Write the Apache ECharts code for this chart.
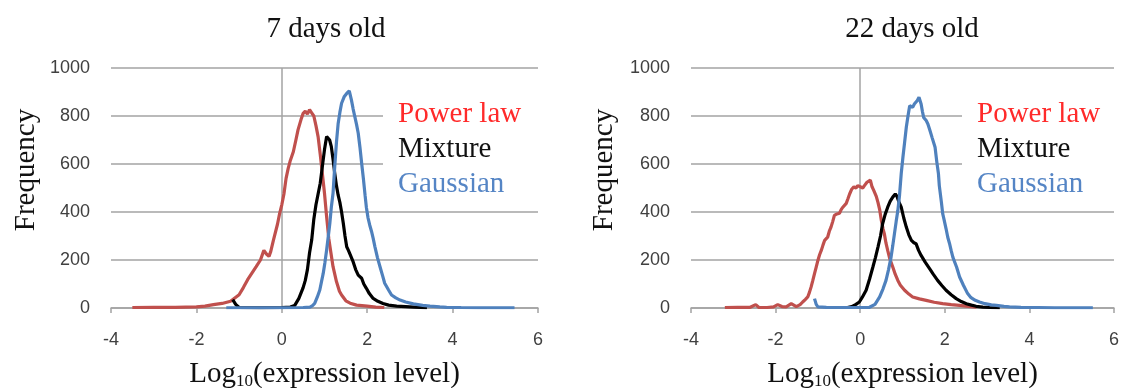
<!DOCTYPE html>
<html>
<head>
<meta charset="utf-8">
<script src="https://cdn.jsdelivr.net/npm/echarts@6/dist/echarts.min.js"></script>
<style>html,body{margin:0;padding:0;background:#fff}#chart{width:1124px;height:388px}</style>
</head>
<body>
<div id="chart"></div>
<script>
// ---- Data (x = log10 expression level, y = frequency) ----
const panelTitles = ['7 days old', '22 days old'];
const seriesNames = ['Power law', 'Mixture', 'Gaussian'];

const day7PowerLaw = [[-3.5,2],[-3.0,3],[-2.5,3],[-2.0,5],[-1.8,8],[-1.6,14],[-1.4,19],[-1.2,28],[-1.0,55],[-0.9,85],[-0.8,118],[-0.7,145],[-0.6,172],[-0.5,200],[-0.42,240],[-0.36,225],[-0.3,215],[-0.26,235],[-0.2,280],[-0.1,350],[-0.05,394],[0.0,430],[0.05,475],[0.1,540],[0.15,582],[0.2,615],[0.27,651],[0.33,700],[0.38,742],[0.45,785],[0.5,811],[0.55,820],[0.6,808],[0.65,826],[0.7,813],[0.75,800],[0.8,760],[0.85,714],[0.9,640],[0.95,560],[1.0,478],[1.05,380],[1.1,290],[1.15,230],[1.2,172],[1.28,110],[1.35,70],[1.4,54],[1.5,30],[1.6,20],[1.75,12],[2.0,8],[2.2,4],[2.4,2]];
const day7Mixture = [[-1.15,35],[-1.08,15],[-1.0,2],[-0.5,1],[0.0,2],[0.2,4],[0.3,10],[0.4,40],[0.5,85],[0.55,115],[0.6,160],[0.65,230],[0.7,283],[0.75,370],[0.8,430],[0.85,475],[0.9,520],[0.95,590],[1.0,660],[1.05,715],[1.08,722],[1.12,700],[1.16,672],[1.2,620],[1.24,561],[1.28,510],[1.32,470],[1.36,440],[1.4,400],[1.44,353],[1.48,300],[1.52,255],[1.56,240],[1.6,232],[1.67,193],[1.73,160],[1.79,137],[1.87,124],[1.92,100],[1.98,82],[2.05,60],[2.14,40],[2.25,28],[2.37,19],[2.5,12],[2.69,8],[2.9,6],[3.1,4],[3.4,1]];
const day7Gaussian = [[-1.3,1],[-0.5,1],[0.0,1],[0.5,2],[0.66,4],[0.72,10],[0.77,19],[0.83,45],[0.89,75],[0.93,110],[0.97,144],[1.01,190],[1.05,242],[1.09,300],[1.125,353],[1.16,420],[1.2,478],[1.24,590],[1.28,690],[1.32,769],[1.36,815],[1.4,853],[1.46,880],[1.52,894],[1.58,905],[1.63,867],[1.67,830],[1.71,797],[1.75,765],[1.79,728],[1.83,670],[1.87,603],[1.91,540],[1.95,470],[1.98,420],[2.02,375],[2.06,345],[2.1,320],[2.14,290],[2.18,256],[2.24,210],[2.3,172],[2.36,135],[2.41,103],[2.5,75],[2.57,54],[2.67,42],[2.77,33],[2.9,25],[3.08,17],[3.3,11],[3.47,8],[3.7,5],[3.86,3],[4.2,2],[4.6,1],[5.0,1],[5.45,1]];

const day22PowerLaw = [[-3.2,2],[-2.9,3],[-2.6,3],[-2.47,14],[-2.4,3],[-2.2,2],[-2.05,5],[-1.95,14],[-1.85,6],[-1.75,5],[-1.63,18],[-1.51,6],[-1.42,14],[-1.36,25],[-1.3,35],[-1.24,46],[-1.2,65],[-1.16,88],[-1.12,115],[-1.08,143],[-1.04,170],[-1.0,198],[-0.96,222],[-0.92,240],[-0.88,262],[-0.84,282],[-0.77,295],[-0.73,320],[-0.69,337],[-0.65,360],[-0.61,386],[-0.55,392],[-0.49,395],[-0.45,410],[-0.41,420],[-0.33,436],[-0.29,455],[-0.25,475],[-0.2,495],[-0.15,505],[-0.1,500],[-0.06,510],[0.0,505],[0.06,500],[0.1,510],[0.16,524],[0.2,518],[0.24,533],[0.28,505],[0.32,490],[0.38,465],[0.42,440],[0.46,410],[0.5,365],[0.54,330],[0.57,310],[0.61,270],[0.65,240],[0.7,205],[0.77,171],[0.83,140],[0.89,115],[0.95,95],[1.05,74],[1.15,58],[1.24,46],[1.4,38],[1.56,32],[1.75,24],[1.95,18],[2.15,14],[2.35,11],[2.55,7],[2.75,4]];
const day22Mixture = [[-0.3,2],[-0.2,6],[-0.1,15],[-0.02,25],[0.05,45],[0.14,74],[0.22,120],[0.3,171],[0.36,210],[0.42,254],[0.48,300],[0.53,351],[0.59,390],[0.65,420],[0.71,445],[0.77,462],[0.83,475],[0.87,465],[0.92,440],[0.97,420],[1.03,375],[1.09,337],[1.15,305],[1.21,282],[1.27,272],[1.32,268],[1.38,240],[1.44,219],[1.54,190],[1.64,164],[1.73,140],[1.83,115],[1.93,94],[2.03,74],[2.15,55],[2.27,39],[2.39,27],[2.51,18],[2.63,12],[2.74,7],[2.9,4],[3.06,2],[3.3,1]];
const day22Gaussian = [[-1.08,39],[-1.04,15],[-1.0,5],[-0.8,3],[-0.5,2],[-0.2,2],[0.0,2],[0.22,3],[0.35,15],[0.46,46],[0.54,80],[0.61,115],[0.67,160],[0.73,212],[0.77,260],[0.81,310],[0.85,360],[0.89,406],[0.93,470],[0.97,560],[1.01,628],[1.05,690],[1.09,753],[1.13,800],[1.17,843],[1.2,840],[1.24,836],[1.28,850],[1.31,857],[1.35,865],[1.39,878],[1.42,880],[1.44,850],[1.47,820],[1.5,794],[1.56,781],[1.6,767],[1.64,745],[1.7,710],[1.77,670],[1.81,610],[1.85,559],[1.87,510],[1.92,440],[1.95,393],[1.98,370],[2.03,330],[2.07,295],[2.11,270],[2.15,240],[2.19,212],[2.28,170],[2.35,129],[2.44,95],[2.54,60],[2.62,43],[2.72,32],[2.82,25],[2.95,18],[3.1,13],[3.22,11],[3.4,7],[3.53,5],[3.8,3],[4.2,2],[4.6,1],[5.0,1],[5.5,1]];

const xRange = {min: -4, max: 6, interval: 2};
const yRange = {min: 0, max: 1000, interval: 200};

// ---- Styling ----
const lineColors = ['#c0504d', '#000000', '#4f81bd'];
const legendColors = ['#ff2a2a', '#111111', '#5585c5'];
const serif = '"Liberation Serif", "Times New Roman", serif';
const sans = '"Liberation Sans", Arial, sans-serif';
const gridColor = '#a3a3a3';

const panels = [
  {data: [day7PowerLaw, day7Mixture, day7Gaussian], grid: {left: 111, top: 68, width: 427, height: 240}, titleX: 326, yNameX: 26, legendX: 398, maskX: 383},
  {data: [day22PowerLaw, day22Mixture, day22Gaussian], grid: {left: 691, top: 68, width: 423, height: 240}, titleX: 912, yNameX: 604, legendX: 977, maskX: 962}
];

const option = {
  animation: false,
  backgroundColor: '#fff',
  grid: panels.map(p => Object.assign({containLabel: false, outerBoundsMode: 'none'}, p.grid)),
  xAxis: panels.map((p, i) => ({
    type: 'value', gridIndex: i, min: xRange.min, max: xRange.max, interval: xRange.interval,
    axisLine: {show: true, onZero: false, lineStyle: {color: gridColor, width: 1.5}},
    axisTick: {show: true, length: 5, lineStyle: {color: gridColor, width: 1.5}},
    splitLine: {show: false},
    axisLabel: {margin: 23, fontFamily: sans, fontSize: 18, color: '#404040'},
    name: 'Log{sub|10}(expression level)', nameLocation: 'middle', nameGap: 51,
    nameTextStyle: {fontFamily: serif, fontSize: 29, color: '#111', rich: {sub: {fontFamily: serif, fontSize: 17, color: '#111', verticalAlign: 'bottom', padding: [14, 0, 0, 0]}}}
  })),
  yAxis: panels.map((p, i) => ({
    type: 'value', gridIndex: i, min: yRange.min, max: yRange.max, interval: yRange.interval,
    axisLine: {show: false}, axisTick: {show: false},
    splitLine: {show: true, lineStyle: {color: gridColor, width: 1.5}},
    axisLabel: {margin: 21, fontFamily: sans, fontSize: 18, color: '#404040', formatter: v => String(v)}
  })),
  series: [],
  graphic: []
};

panels.forEach((p, i) => {
  p.data.forEach((d, k) => {
    const s = {
      type: 'line', name: seriesNames[k], xAxisIndex: i, yAxisIndex: i, data: d,
      showSymbol: false, symbol: 'none', z: 3 + k,
      lineStyle: {color: lineColors[k], width: 3.2}
    };
    if (k === 0) {
      s.markLine = {silent: true, symbol: 'none', label: {show: false},
        lineStyle: {color: gridColor, width: 1.5, type: 'solid'}, data: [{xAxis: 0}], z: 1};
    }
    option.series.push(s);
  });
  // title
  option.graphic.push({type: 'text', x: p.titleX, y: 29, z: 50,
    style: {text: panelTitles[i], font: '29px ' + serif, fill: '#111', align: 'center', verticalAlign: 'middle'}});
  // y axis name
  option.graphic.push({type: 'text', x: p.yNameX, y: 170, rotation: Math.PI / 2, z: 50,
    style: {text: 'Frequency', font: '29px ' + serif, fill: '#111', align: 'center', verticalAlign: 'middle'}});
  // legend box (white fill hides grid lines behind it)
  option.graphic.push({type: 'rect', x: p.maskX, y: 92, z: 40,
    shape: {width: 160, height: 110}, style: {fill: '#fff'}});
  seriesNames.forEach((n, k) => {
    option.graphic.push({type: 'text', x: p.legendX, y: 114 + k * 35, z: 50,
      style: {text: n, font: '29px ' + serif, fill: legendColors[k], align: 'left', verticalAlign: 'middle'}});
  });
});

const chart = echarts.init(document.getElementById('chart'), null, {renderer: 'canvas'});
chart.setOption(option);
</script>
</body>
</html>
